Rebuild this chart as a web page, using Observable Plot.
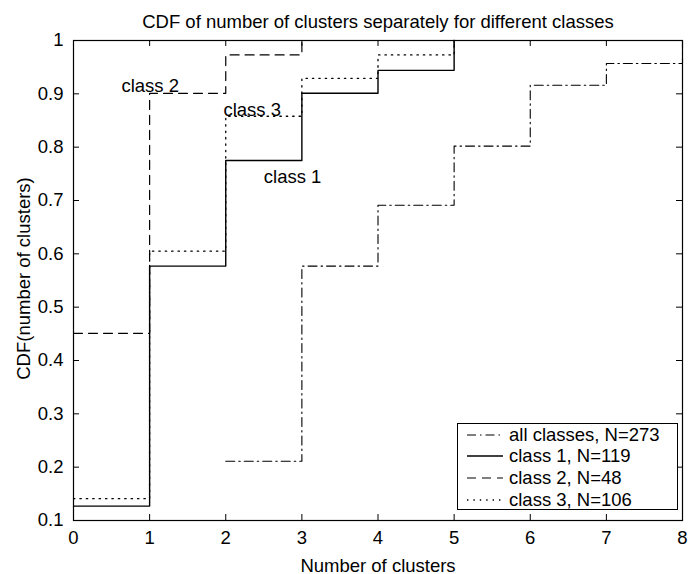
<!DOCTYPE html>
<html>
<head>
<meta charset="utf-8">
<script src="https://cdn.jsdelivr.net/npm/d3@7"></script>
<script src="https://cdn.jsdelivr.net/npm/@observablehq/plot@0.6"></script>
<style>
  html, body { margin: 0; padding: 0; background: #fff; }
  #chart { position: relative; width: 695px; height: 574px;
           font-family: "Liberation Sans", Arial, Helvetica, sans-serif; }
  #legend { position: absolute; left: 457px; top: 423px; width: 221px; height: 87px;
            box-sizing: border-box; border: 1px solid #000; background: #fff;
            font-size: 18.5px; color: #000; }
  #legend .row { display: flex; align-items: center; height: 21.6px; white-space: nowrap; }
  #legend .row svg { margin-left: 9px; margin-right: 6px; flex: none; }
</style>
</head>
<body>
<div id="chart"></div>
<script>
// Text
const titleText = "CDF of number of clusters separately for different classes";
const xLabel = "Number of clusters";
const yLabel = "CDF(number of clusters)";

// Axis ticks
const xTicks = [0, 1, 2, 3, 4, 5, 6, 7, 8];
const yTicks = [0.1, 0.2, 0.3, 0.4, 0.5, 0.6, 0.7, 0.8, 0.9, 1];

// Series: number of clusters and empirical CDF at each step
const seriesNames = ["all classes", "class 1", "class 2", "class 3"];
const seriesN = [273, 119, 48, 106];

const allClassesX = [2, 3, 4, 5, 6, 7, 8];
const allClassesCDF = [0.211, 0.577, 0.691, 0.802, 0.916, 0.957, 1.0];

const class1X = [0, 1, 2, 3, 4, 5];
const class1CDF = [0.127, 0.577, 0.775, 0.901, 0.944, 1.0];

const class2X = [0, 1, 2, 3];
const class2CDF = [0.451, 0.901, 0.973, 1.0];

const class3X = [0, 1, 2, 3, 4, 5];
const class3CDF = [0.141, 0.605, 0.858, 0.929, 0.973, 1.0];

// In-plot labels next to the class curves
const noteText = ["class 2", "class 3", "class 1"];
const noteX = [0.63, 1.97, 2.5];
const noteY = [0.915, 0.87, 0.744];

// Line styles: dash-dot, solid, dashed, dotted
const dashes = ["9,4,1.5,4", null, "9,6", "1.4,5"];
const widths = [1.1, 1.4, 1.2, 1.3];

const xs = [allClassesX, class1X, class2X, class3X];
const ys = [allClassesCDF, class1CDF, class2CDF, class3CDF];
const series = seriesNames.map((name, k) => ({
  name, n: seriesN[k], dash: dashes[k], width: widths[k],
  points: xs[k].map((x, i) => ({x, cdf: ys[k][i]}))
}));
const notes = noteText.map((text, i) => ({text, x: noteX[i], y: noteY[i]}));

const xDomain = [xTicks[0], xTicks[xTicks.length - 1]];
const yDomain = [yTicks[0], yTicks[yTicks.length - 1]];
const tickLen = 6;

const chart = Plot.plot({
  width: 695,
  height: 574,
  marginLeft: 73,
  marginRight: 13,
  marginTop: 40,
  marginBottom: 54,
  style: {fontFamily: '"Liberation Sans", Arial, Helvetica, sans-serif', fontSize: "18.5px", color: "#000", background: "#fff", overflow: "visible"},
  x: {domain: xDomain},
  y: {domain: yDomain},
  marks: [
    // tick labels
    Plot.axisX({ticks: xTicks, tickSize: 0, tickPadding: 10, tickFormat: d => String(d), label: null}),
    Plot.axisY({ticks: yTicks, tickSize: 0, tickPadding: 10, tickFormat: d => String(d), label: null}),
    // inward ticks on all four sides
    Plot.ruleX(xTicks, {x: d => d, y1: yDomain[0], y2: yDomain[0], insetTop: -tickLen, stroke: "black"}),
    Plot.ruleX(xTicks, {x: d => d, y1: yDomain[1], y2: yDomain[1], insetBottom: -tickLen, stroke: "black"}),
    Plot.ruleY(yTicks, {y: d => d, x1: xDomain[0], x2: xDomain[0], insetRight: -tickLen, stroke: "black"}),
    Plot.ruleY(yTicks, {y: d => d, x1: xDomain[1], x2: xDomain[1], insetLeft: -tickLen, stroke: "black"}),
    // step curves
    ...series.map(s => Plot.line(s.points, {
      x: "x", y: "cdf", curve: "step-after",
      stroke: "black", strokeWidth: s.width, strokeDasharray: s.dash
    })),
    Plot.frame({stroke: "black", strokeWidth: 1.2}),
    // curve annotations
    Plot.text(notes, {x: "x", y: "y", text: "text", textAnchor: "start", fill: "black"}),
    // title and axis labels
    Plot.text([titleText], {frameAnchor: "top", dy: -26, fill: "black"}),
    Plot.text([xLabel], {frameAnchor: "bottom", dy: 51, fill: "black"}),
    Plot.text([yLabel], {frameAnchor: "left", textAnchor: "middle", rotate: -90, dx: -49, dy: -2, fill: "black"})
  ]
});

const container = document.getElementById("chart");
container.appendChild(chart);

// Legend box in the lower-right corner of the axes
const legend = document.createElement("div");
legend.id = "legend";
for (const s of series) {
  const row = document.createElement("div");
  row.className = "row";
  const svg = d3.create("svg").attr("width", 36).attr("height", 10);
  svg.append("line")
    .attr("x1", 0).attr("x2", 36).attr("y1", 5).attr("y2", 5)
    .attr("stroke", "black").attr("stroke-width", s.width)
    .attr("stroke-dasharray", s.dash);
  row.appendChild(svg.node());
  const label = document.createElement("span");
  label.textContent = `${s.name}, N=${s.n}`;
  row.appendChild(label);
  legend.appendChild(row);
}
container.appendChild(legend);
</script>
</body>
</html>
